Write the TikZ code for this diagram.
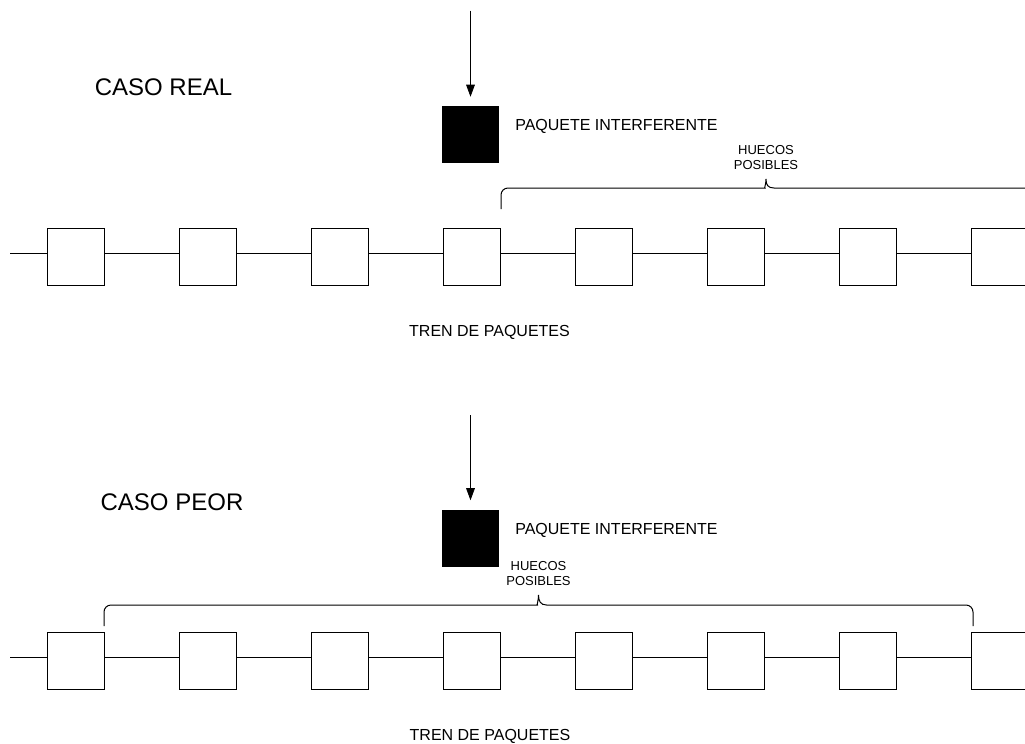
\documentclass[tikz,border=0pt]{standalone}
\usepackage{fontspec}
\setmainfont{Liberation Sans}
\usetikzlibrary{arrows.meta,positioning,calc}

\begin{document}
\begin{tikzpicture}[
  x=0.75pt, y=-0.75pt,
  paquete/.style={rectangle, draw, minimum size=42.75pt, inner sep=0pt, line width=0.6pt},
  interf/.style={rectangle, fill=black, minimum size=42.75pt, inner sep=0pt},
  flecha/.style={-{Triangle[length=9pt,width=6.5pt]}, line width=0.6pt, shorten >=6.75pt},
  enlace/.style={line width=0.75pt},
  llave/.style={line width=0.75pt},
  titulo/.style={font=\fontsize{18}{21.6}\selectfont, inner sep=0pt, anchor=base},
  etiqueta/.style={font=\fontsize{12}{14.4}\selectfont, inner sep=0pt},
  hueco/.style={font=\fontsize{9.75}{11.6}\selectfont, align=center, inner sep=0pt, anchor=south}
]
  \useasboundingbox (0,0) rectangle (1025,743);
  \clip (0,0) rectangle (1025,743);

  \node[titulo] (real) at (163.5,95) {CASO REAL};
  \node[interf] (I-1) at (470.5,134.5) {};
  \coordinate (src-1) at (470.5,10.7);
  \draw[flecha] (src-1) -- (I-1.north);
  \node[etiqueta, anchor=base west] (lbl-1) at (515,130.5) {PAQUETE INTERFERENTE};

  \foreach \i in {1,...,8}
    \node[paquete] (A-\i) at ({75.5+132*(\i-1)},256.5) {};
  \coordinate (A-0) at (10,253);
  \draw[enlace] (A-0) -- ([yshift=2.625pt]A-1.west);
  \foreach \i [count=\j from 2] in {1,...,7}
    \draw[enlace] ([yshift=2.625pt]A-\i.east) -- ([yshift=2.625pt]A-\j.west);

  \draw[llave] (501,209) [rounded corners=5.25pt] |- (758,188) [sharp corners]
    .. controls (764,188) and (766,185) .. (766,179)
    .. controls (766,185) and (768,188) .. (774,188) [rounded corners=5.25pt] -| (1031,209);
  \node[hueco] (hue-1) at (766,170) {HUECOS\\POSIBLES};
  \node[etiqueta, anchor=base] (tren-1) at (489.5,336.5) {TREN DE PAQUETES};

  \node[titulo] (peor) at (172,510) {CASO PEOR};
  \node[interf] (I-2) at (470.5,538) {};
  \coordinate (src-2) at (470.5,415);
  \draw[flecha] (src-2) -- (I-2.north);
  \node[etiqueta, anchor=base west] (lbl-2) at (515,534) {PAQUETE INTERFERENTE};

  \foreach \i in {1,...,8}
    \node[paquete] (B-\i) at ({75.5+132*(\i-1)},660.5) {};
  \coordinate (B-0) at (10,657);
  \draw[enlace] (B-0) -- ([yshift=2.625pt]B-1.west);
  \foreach \i [count=\j from 2] in {1,...,7}
    \draw[enlace] ([yshift=2.625pt]B-\i.east) -- ([yshift=2.625pt]B-\j.west);

  \draw[llave] (104,626) [rounded corners=5.25pt] |- (530.5,605) [sharp corners]
    .. controls (536.5,605) and (538.5,601) .. (538.5,595)
    .. controls (538.5,601) and (540.5,605) .. (546.5,605) [rounded corners=5.25pt] -| (973,626);
  \node[hueco] (hue-2) at (538.5,586) {HUECOS\\POSIBLES};
  \node[etiqueta, anchor=base] (tren-2) at (490,740.5) {TREN DE PAQUETES};
\end{tikzpicture}
\end{document}
